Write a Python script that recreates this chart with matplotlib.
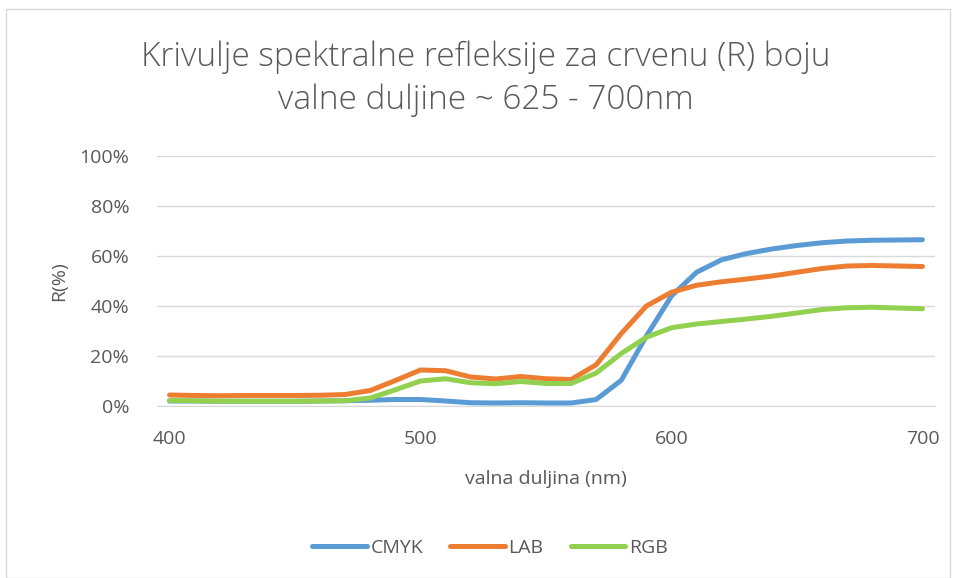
import matplotlib
matplotlib.use("Agg")
import matplotlib.pyplot as plt
from matplotlib.patches import Rectangle
from matplotlib.ticker import PercentFormatter

# wavelengths (nm) and reflectance (%)
wavelength = [400, 410, 420, 430, 440, 450, 460, 470, 480, 490, 500,
              510, 520, 530, 540, 550, 560, 570, 580, 590, 600,
              610, 620, 630, 640, 650, 660, 670, 680, 690, 700]
cmyk = [2.0, 2.0, 1.9, 1.9, 1.9, 1.9, 2.0, 2.1, 2.3, 2.6, 2.6,
        2.0, 1.3, 1.2, 1.3, 1.2, 1.2, 2.6, 10.3, 28.0, 44.0,
        53.5, 58.5, 61.0, 62.8, 64.2, 65.3, 66.0, 66.3, 66.4, 66.5]
lab = [4.4, 4.2, 4.1, 4.2, 4.2, 4.2, 4.3, 4.6, 6.2, 10.2, 14.4,
       14.1, 11.6, 10.8, 11.8, 10.9, 10.6, 16.5, 29.0, 40.0, 45.5,
       48.3, 49.7, 50.8, 52.0, 53.5, 55.0, 56.0, 56.2, 56.0, 55.8]
rgb = [2.2, 2.1, 1.9, 1.9, 1.9, 1.9, 2.0, 2.1, 3.2, 6.5, 10.0,
       10.9, 9.3, 8.9, 9.8, 9.0, 9.0, 13.2, 21.0, 27.5, 31.3,
       32.8, 33.8, 34.8, 35.9, 37.2, 38.6, 39.3, 39.5, 39.2, 38.9]
series = [("CMYK", cmyk, "#5B9BD5"), ("LAB", lab, "#ED7D31"), ("RGB", rgb, "#92D050")]
x_ticks = [400, 500, 600, 700]

TEXT = "#595959"
GRID = "#D9D9D9"
plt.rcParams["font.family"] = ["Open Sans", "DejaVu Sans"]

W, H = 958, 578
fig = plt.figure(figsize=(W / 100, H / 100), dpi=100)

# chart border
fig.patches.append(Rectangle((6 / W, 0), 944 / W, 1 - 9 / H, transform=fig.transFigure,
                             fill=False, edgecolor=GRID, linewidth=1))

ax = fig.add_axes([157 / W, 1 - 406 / H, 778 / W, 250 / H])
for name, vals, color in series:
    ax.plot(wavelength, vals, color=color, linewidth=3.6, label=name,
            solid_capstyle="round", solid_joinstyle="round")

ax.set_xlim(395, 705)
ax.set_ylim(0, 100)
ax.set_xticks(x_ticks)
ax.set_yticks([0, 20, 40, 60, 80, 100])
ax.yaxis.set_major_formatter(PercentFormatter(100, decimals=0))
ax.grid(axis="y", color=GRID, linewidth=1)
ax.set_axisbelow(True)
for s in ["top", "right", "left"]:
    ax.spines[s].set_visible(False)
ax.spines["bottom"].set_color(GRID)
ax.tick_params(length=0, labelsize=14, colors=TEXT)
ax.tick_params(axis="x", pad=17)
ax.tick_params(axis="y", pad=20)

ax.set_xlabel("valna duljina (nm)", fontsize=14, color=TEXT, labelpad=16)
ax.set_ylabel("R(%)", fontsize=14, color=TEXT, labelpad=8)

fig.text(486 / W, 1 - 57 / H, "Krivulje spektralne refleksije za crvenu (R) boju",
         ha="center", va="center", fontsize=24, color=TEXT, fontweight="light")
fig.text(486 / W, 1 - 100 / H, "valne duljine ~ 625 - 700nm",
         ha="center", va="center", fontsize=24, color=TEXT, fontweight="light")

fig.legend(loc="center", bbox_to_anchor=(490 / W, 1 - 548 / H), ncol=3, frameon=False,
           fontsize=14, labelcolor=TEXT, handlelength=2.8, handletextpad=0.2,
           columnspacing=1.4)

fig.savefig("out.png", dpi=100)
